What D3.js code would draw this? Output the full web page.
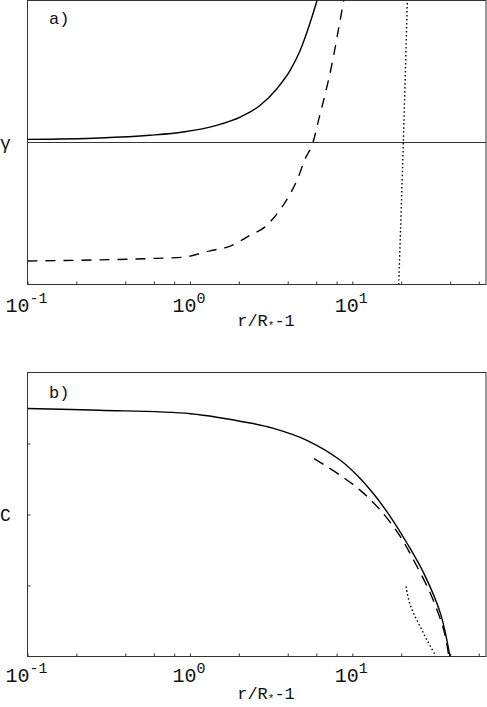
<!DOCTYPE html>
<html>
<head>
<meta charset="utf-8">
<script src="https://cdn.jsdelivr.net/npm/d3@7"></script>
<style>
  body { margin: 0; background: #fff; }
  svg { display: block; }
  text { font-family: "Liberation Mono", "DejaVu Sans Mono", monospace; fill: #111; }
  .frame { fill: none; stroke: #333; stroke-width: 1; }
  .curve { fill: none; stroke: #000; stroke-width: 1.4; }
</style>
</head>
<body>
<svg id="chart" width="487" height="707"></svg>
<script>
// x values are r/R* - 1
let gammaSolidX = [0.1, 0.278, 0.566, 0.909, 1.46, 2.04, 2.71, 3.43, 4.14, 4.77, 5.38, 6.06, 6.6];
let gammaSolidY = [0.022, 0.032, 0.051, 0.074, 0.121, 0.179, 0.262, 0.379, 0.508, 0.648, 0.812, 1.0, 1.15];

let gammaDashX = [0.1, 0.608, 0.889, 1.33, 1.77, 2.35, 2.90, 3.51, 4.04, 4.56, 5.13, 5.72, 6.19, 6.81, 7.50, 8.05, 8.77, 9.1];
let gammaDashY = [-0.835, -0.816, -0.809, -0.763, -0.730, -0.653, -0.594, -0.489, -0.383, -0.266, -0.113, -0.001, 0.156, 0.344, 0.555, 0.742, 0.977, 1.08];

let gammaDotX = [19.3, 20.6, 21.8];
let gammaDotY = [-1.0, 0.0, 1.0];

let cSolidX = [0.1, 0.278, 1.01, 2.35, 3.27, 5.25, 8.43, 10.7, 13.5, 17.2, 21.8, 27.6, 34.9, 39.9];
let cSolidY = [0.873, 0.867, 0.855, 0.822, 0.803, 0.761, 0.691, 0.638, 0.573, 0.491, 0.397, 0.292, 0.151, 0.0];

let cDashX = [5.82, 8.43, 11.2, 14.9, 19.8, 23.9, 30.3, 36.6, 39.3];
let cDashY = [0.697, 0.638, 0.585, 0.515, 0.421, 0.338, 0.221, 0.092, 0.0];

let cDotX = [21.4, 22.3, 23.9, 26.3, 28.9, 32.5];
let cDotY = [0.247, 0.197, 0.150, 0.103, 0.056, 0.004];

let xTicks = [0.1, 0.2, 0.4, 0.6, 0.8, 1, 2, 4, 6, 8, 10, 20, 40, 60];
let xLabels = [[0.1, '-1'], [1, '0'], [10, '1']];
let cTicks = [0.25, 0.5, 0.75];

let svg = d3.select('#chart');

let x = d3.scaleLog()
    .domain([0.1, 66.5])
    .range([27.5, 486]);

function zip(xs, ys) {
    return xs.map(function(d, i) { return [d, ys[i]]; });
}

function drawPanel(opts) {
    let y = d3.scaleLinear()
        .domain(opts.yDomain)
        .range([opts.bottom, opts.top]);

    let g = svg.append('g');

    g.append('clipPath')
        .attr('id', opts.id + '-clip')
        .append('rect')
        .attr('x', 27.5).attr('y', opts.top)
        .attr('width', 486 - 27.5).attr('height', opts.bottom - opts.top);

    // frame
    g.append('rect')
        .attr('class', 'frame')
        .attr('x', 27.5).attr('y', opts.top)
        .attr('width', 486 - 27.5).attr('height', opts.bottom - opts.top);

    // x ticks, pointing inwards
    g.append('g')
        .attr('transform', 'translate(0,' + opts.bottom + ')')
        .call(d3.axisBottom(x).tickValues(xTicks).tickSize(-3).tickFormat(''))
        .call(function(a) {
            a.select('.domain').remove();
            a.selectAll('line').attr('stroke', '#333');
        });

    // tick labels as 10^n
    let lab = g.selectAll('.xlab')
        .data(xLabels)
        .enter().append('text')
        .attr('class', 'xlab')
        .attr('x', function(d) { return x(d[0]) - 1; })
        .attr('y', opts.bottom + opts.labelGap)
        .attr('text-anchor', 'middle')
        .style('font-size', '20px');
    lab.append('tspan').text('10');
    lab.append('tspan')
        .attr('dy', -9)
        .style('font-size', '15px')
        .text(function(d) { return d[1]; });

    // axis title
    let t = g.append('text')
        .attr('x', 266)
        .attr('y', opts.bottom + opts.titleGap)
        .attr('text-anchor', 'middle')
        .style('font-size', '17px');
    t.append('tspan').text('r/R');
    t.append('tspan').attr('dy', 3).style('font-size', '11px').text('*');
    t.append('tspan').attr('dy', -3).text('-1');

    // panel tag
    g.append('text')
        .attr('x', 49)
        .attr('y', opts.top + opts.tagGap)
        .style('font-size', '17px')
        .text(opts.tag);

    // y label
    g.append('text')
        .attr('x', 0)
        .attr('y', y(opts.yLabelAt) + 6)
        .style('font-size', '18px')
        .text(opts.yLabel);

    let line = d3.line()
        .x(function(d) { return x(d[0]); })
        .y(function(d) { return y(d[1]); })
        .curve(d3.curveMonotoneX);

    let lineY = d3.line()
        .x(function(d) { return x(d[0]); })
        .y(function(d) { return y(d[1]); })
        .curve(d3.curveCatmullRom);

    let curves = g.append('g').attr('clip-path', 'url(#' + opts.id + '-clip)');
    opts.series.forEach(function(s) {
        curves.append('path')
            .datum(s.data)
            .attr('class', 'curve')
            .attr('d', s.smooth === 'catmull' ? lineY : line)
            .attr('stroke-dasharray', s.dash)
            .attr('stroke-width', s.width || 1.4);
    });

    return {y: y, g: g};
}

// panel a
let a = drawPanel({
    id: 'a', top: 0.5, bottom: 284.5, yDomain: [-1, 1], tag: 'a)',
    labelGap: 27, titleGap: 41, tagGap: 23,
    yLabel: 'γ', yLabelAt: 0,
    series: [
        {data: zip(gammaSolidX, gammaSolidY), dash: null},
        {data: zip(gammaDashX, gammaDashY), dash: '10,8'},
        {data: zip(gammaDotX, gammaDotY), dash: '1.5,2.5', smooth: 'catmull', width: 1.6}
    ]
});

// zero line of panel a
a.g.append('line')
    .attr('x1', 27.5).attr('x2', 486)
    .attr('y1', a.y(0)).attr('y2', a.y(0))
    .attr('stroke', '#333').attr('stroke-width', 1);

// panel b
let b = drawPanel({
    id: 'b', top: 372.5, bottom: 656.5, yDomain: [0, 1], tag: 'b)',
    labelGap: 25.5, titleGap: 42.5, tagGap: 25,
    yLabel: 'C', yLabelAt: 0.5,
    series: [
        {data: zip(cSolidX, cSolidY), dash: null, smooth: 'catmull'},
        {data: zip(cDashX, cDashY), dash: '11,7', smooth: 'catmull'},
        {data: zip(cDotX, cDotY), dash: '1.5,2.5', smooth: 'catmull', width: 1.6}
    ]
});

b.g.append('g')
    .attr('transform', 'translate(27.5,0)')
    .call(d3.axisLeft(b.y).tickValues(cTicks).tickSize(-3).tickFormat(''))
    .call(function(ax) {
        ax.select('.domain').remove();
        ax.selectAll('line').attr('stroke', '#333');
    });
</script>
</body>
</html>
